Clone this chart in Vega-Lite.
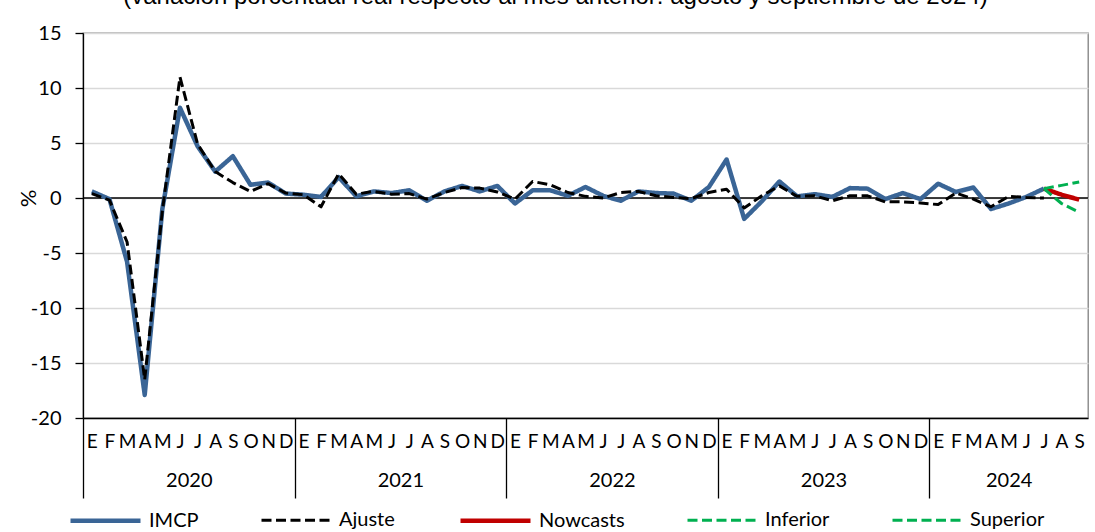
{
  "$schema": "https://vega.github.io/schema/vega-lite/v6.json",
  "width": 1005,
  "height": 385,
  "autosize": {"type": "none"},
  "padding": {"left": 83, "top": 33, "right": 7, "bottom": 114},
  "background": "white",
  "title": {
    "text": "(variación porcentual real respecto al mes anterior: agosto y septiembre de 2024)",
    "font": "Liberation Sans",
    "fontSize": 24,
    "fontWeight": "normal",
    "color": "black",
    "anchor": "middle",
    "frame": "group",
    "baseline": "alphabetic",
    "offset": -5,
    "dx": -30
  },
  "data": {
    "values": [
      {"periodo": "2020-01", "IMCP": 0.6, "Ajuste": 0.4},
      {"periodo": "2020-02", "IMCP": -0.1, "Ajuste": -0.2},
      {"periodo": "2020-03", "IMCP": -5.8, "Ajuste": -4.0},
      {"periodo": "2020-04", "IMCP": -17.9, "Ajuste": -16.5},
      {"periodo": "2020-05", "IMCP": -1.0, "Ajuste": -1.2},
      {"periodo": "2020-06", "IMCP": 8.2, "Ajuste": 11.0},
      {"periodo": "2020-07", "IMCP": 4.7, "Ajuste": 4.9},
      {"periodo": "2020-08", "IMCP": 2.4, "Ajuste": 2.4},
      {"periodo": "2020-09", "IMCP": 3.8, "Ajuste": 1.4},
      {"periodo": "2020-10", "IMCP": 1.2, "Ajuste": 0.6},
      {"periodo": "2020-11", "IMCP": 1.4, "Ajuste": 1.3},
      {"periodo": "2020-12", "IMCP": 0.4, "Ajuste": 0.45},
      {"periodo": "2021-01", "IMCP": 0.3, "Ajuste": 0.3},
      {"periodo": "2021-02", "IMCP": 0.1, "Ajuste": -0.8},
      {"periodo": "2021-03", "IMCP": 1.9, "Ajuste": 2.2},
      {"periodo": "2021-04", "IMCP": 0.15, "Ajuste": 0.35},
      {"periodo": "2021-05", "IMCP": 0.6, "Ajuste": 0.6},
      {"periodo": "2021-06", "IMCP": 0.45, "Ajuste": 0.35},
      {"periodo": "2021-07", "IMCP": 0.7, "Ajuste": 0.4},
      {"periodo": "2021-08", "IMCP": -0.25, "Ajuste": -0.1},
      {"periodo": "2021-09", "IMCP": 0.6, "Ajuste": 0.5},
      {"periodo": "2021-10", "IMCP": 1.1, "Ajuste": 0.95},
      {"periodo": "2021-11", "IMCP": 0.6, "Ajuste": 0.9},
      {"periodo": "2021-12", "IMCP": 1.1, "Ajuste": 0.55},
      {"periodo": "2022-01", "IMCP": -0.5, "Ajuste": -0.1},
      {"periodo": "2022-02", "IMCP": 0.7, "Ajuste": 1.5},
      {"periodo": "2022-03", "IMCP": 0.7, "Ajuste": 1.2},
      {"periodo": "2022-04", "IMCP": 0.2, "Ajuste": 0.5},
      {"periodo": "2022-05", "IMCP": 1.0, "Ajuste": 0.15},
      {"periodo": "2022-06", "IMCP": 0.2, "Ajuste": 0.0},
      {"periodo": "2022-07", "IMCP": -0.25, "Ajuste": 0.5},
      {"periodo": "2022-08", "IMCP": 0.6, "Ajuste": 0.6},
      {"periodo": "2022-09", "IMCP": 0.45, "Ajuste": 0.2},
      {"periodo": "2022-10", "IMCP": 0.4, "Ajuste": 0.05},
      {"periodo": "2022-11", "IMCP": -0.25, "Ajuste": -0.05},
      {"periodo": "2022-12", "IMCP": 1.0, "Ajuste": 0.5},
      {"periodo": "2023-01", "IMCP": 3.5, "Ajuste": 0.8},
      {"periodo": "2023-02", "IMCP": -1.9, "Ajuste": -0.9},
      {"periodo": "2023-03", "IMCP": -0.3, "Ajuste": 0.2},
      {"periodo": "2023-04", "IMCP": 1.5, "Ajuste": 1.1},
      {"periodo": "2023-05", "IMCP": 0.15, "Ajuste": 0.15},
      {"periodo": "2023-06", "IMCP": 0.35, "Ajuste": 0.2},
      {"periodo": "2023-07", "IMCP": 0.1, "Ajuste": -0.25},
      {"periodo": "2023-08", "IMCP": 0.9, "Ajuste": 0.2},
      {"periodo": "2023-09", "IMCP": 0.85, "Ajuste": 0.2},
      {"periodo": "2023-10", "IMCP": -0.1, "Ajuste": -0.35},
      {"periodo": "2023-11", "IMCP": 0.45, "Ajuste": -0.35},
      {"periodo": "2023-12", "IMCP": -0.1, "Ajuste": -0.45},
      {"periodo": "2024-01", "IMCP": 1.3, "Ajuste": -0.6},
      {"periodo": "2024-02", "IMCP": 0.55, "Ajuste": 0.45},
      {"periodo": "2024-03", "IMCP": 0.95, "Ajuste": -0.1},
      {"periodo": "2024-04", "IMCP": -1.0, "Ajuste": -0.8},
      {"periodo": "2024-05", "IMCP": -0.5, "Ajuste": 0.15},
      {"periodo": "2024-06", "IMCP": 0.1, "Ajuste": 0.05},
      {"periodo": "2024-07", "IMCP": 0.85, "Ajuste": 0.0, "Nowcasts": 0.85, "Inferior": 0.85, "Superior": 0.85},
      {"periodo": "2024-08", "Nowcasts": 0.3, "Inferior": -0.5, "Superior": 1.15},
      {"periodo": "2024-09", "Nowcasts": -0.15, "Inferior": -1.3, "Superior": 1.45}
    ]
  },
  "layer": [
    {
      "data": {"values": [{"nivel": 0}]},
      "mark": {"type": "rule", "color": "black", "strokeWidth": 1.3},
      "encoding": {
        "y": {"field": "nivel", "type": "quantitative", "title": "%", "scale": {"domain": [-20, 15], "nice": false, "zero": false}, "axis": {"values": [-20, -15, -10, -5, 0, 5, 10, 15]}}
      }
    },
    {
      "transform": [
        {"fold": ["IMCP", "Ajuste", "Nowcasts", "Inferior", "Superior"], "as": ["serie", "valor"]},
        {"filter": "isValid(datum.valor) && datum.serie == 'IMCP'"}
      ],
      "mark": {"type": "line", "strokeCap": "butt", "strokeJoin": "round"},
      "encoding": {
        "x": {"field": "periodo", "type": "ordinal", "title": null, "scale": {"type": "point", "padding": 0.5},
          "axis": {"orient": "bottom", "ticks": false, "domain": true, "domainColor": "black", "domainWidth": 1.3, "grid": false,
            "labelExpr": "['E','F','M','A','M','J','J','A','S','O','N','D'][toNumber(substring(datum.value,5,7))-1]",
            "labelFont": "Lato", "labelFontSize": 19, "labelColor": "black", "labelPadding": 14, "labelAngle": 0,
            "labelOverlap": false, "labelBound": false, "labelFlush": false}},
        "y": {"field": "valor", "type": "quantitative", "title": "%", "scale": {"domain": [-20, 15], "nice": false, "zero": false}, "axis": {"values": [-20, -15, -10, -5, 0, 5, 10, 15]}},
        "color": {"field": "serie", "type": "nominal", "scale": {"domain": ["IMCP", "Ajuste", "Nowcasts", "Inferior", "Superior"], "range": ["#3A6596", "#000000", "#C00000", "#00B050", "#00B050"]}},
        "strokeDash": {"field": "serie", "type": "nominal", "scale": {"domain": ["IMCP", "Ajuste", "Nowcasts", "Inferior", "Superior"], "range": [[1, 0], [10, 4.5], [1, 0], [10, 4.5], [10, 4.5]]}},
        "strokeWidth": {"field": "serie", "type": "nominal", "scale": {"type": "ordinal", "domain": ["IMCP", "Ajuste", "Nowcasts", "Inferior", "Superior"], "range": [4.5, 3, 4.5, 3, 3]}}
      }
    },
    {
      "transform": [
        {"fold": ["IMCP", "Ajuste", "Nowcasts", "Inferior", "Superior"], "as": ["serie", "valor"]},
        {"filter": "isValid(datum.valor) && datum.serie == 'Ajuste'"}
      ],
      "mark": {"type": "line", "strokeCap": "butt", "strokeJoin": "round"},
      "encoding": {
        "x": {"field": "periodo", "type": "ordinal", "title": null, "scale": {"type": "point", "padding": 0.5},
          "axis": {"orient": "bottom", "ticks": false, "domain": false, "grid": false,
            "values": ["2020-06", "2021-06", "2022-06", "2023-06", "2024-05"],
            "labelExpr": "substring(datum.value,0,4)",
            "labelOffset": {"condition": {"test": "datum.value == '2024-05'", "value": 0}, "value": 8.816},
            "labelFont": "Lato", "labelFontSize": 20, "labelColor": "black", "labelPadding": 52, "labelAngle": 0,
            "labelOverlap": false, "labelBound": false, "labelFlush": false}},
        "y": {"field": "valor", "type": "quantitative", "title": "%", "scale": {"domain": [-20, 15], "nice": false, "zero": false}, "axis": {"values": [-20, -15, -10, -5, 0, 5, 10, 15]}},
        "color": {"field": "serie", "type": "nominal", "scale": {"domain": ["IMCP", "Ajuste", "Nowcasts", "Inferior", "Superior"], "range": ["#3A6596", "#000000", "#C00000", "#00B050", "#00B050"]}},
        "strokeDash": {"field": "serie", "type": "nominal", "scale": {"domain": ["IMCP", "Ajuste", "Nowcasts", "Inferior", "Superior"], "range": [[1, 0], [10, 4.5], [1, 0], [10, 4.5], [10, 4.5]]}},
        "strokeWidth": {"field": "serie", "type": "nominal", "scale": {"type": "ordinal", "domain": ["IMCP", "Ajuste", "Nowcasts", "Inferior", "Superior"], "range": [4.5, 3, 4.5, 3, 3]}}
      }
    },
    {
      "transform": [
        {"fold": ["IMCP", "Ajuste", "Nowcasts", "Inferior", "Superior"], "as": ["serie", "valor"]},
        {"filter": "isValid(datum.valor) && datum.serie == 'Nowcasts'"}
      ],
      "mark": {"type": "line", "strokeCap": "butt", "strokeJoin": "round"},
      "encoding": {
        "x": {"field": "periodo", "type": "ordinal", "title": null, "scale": {"type": "point", "padding": 0.5},
          "axis": {"orient": "bottom", "labels": false, "ticks": true, "domain": false, "grid": false,
            "values": ["2020-01", "2021-01", "2022-01", "2023-01", "2024-01"],
            "tickSize": 80, "tickOffset": -8.816, "tickColor": "black", "tickWidth": 1.3}},
        "y": {"field": "valor", "type": "quantitative", "title": "%", "scale": {"domain": [-20, 15], "nice": false, "zero": false}, "axis": {"values": [-20, -15, -10, -5, 0, 5, 10, 15]}},
        "color": {"field": "serie", "type": "nominal", "scale": {"domain": ["IMCP", "Ajuste", "Nowcasts", "Inferior", "Superior"], "range": ["#3A6596", "#000000", "#C00000", "#00B050", "#00B050"]}},
        "strokeDash": {"field": "serie", "type": "nominal", "scale": {"domain": ["IMCP", "Ajuste", "Nowcasts", "Inferior", "Superior"], "range": [[1, 0], [10, 4.5], [1, 0], [10, 4.5], [10, 4.5]]}},
        "strokeWidth": {"field": "serie", "type": "nominal", "scale": {"type": "ordinal", "domain": ["IMCP", "Ajuste", "Nowcasts", "Inferior", "Superior"], "range": [4.5, 3, 4.5, 3, 3]}}
      }
    },
    {
      "transform": [
        {"fold": ["IMCP", "Ajuste", "Nowcasts", "Inferior", "Superior"], "as": ["serie", "valor"]},
        {"filter": "isValid(datum.valor) && (datum.serie == 'Inferior' || datum.serie == 'Superior')"}
      ],
      "mark": {"type": "line", "strokeCap": "butt", "strokeJoin": "round"},
      "encoding": {
        "x": {"field": "periodo", "type": "ordinal", "title": null, "scale": {"type": "point", "padding": 0.5}, "axis": null},
        "y": {"field": "valor", "type": "quantitative", "title": "%", "scale": {"domain": [-20, 15], "nice": false, "zero": false}, "axis": {"values": [-20, -15, -10, -5, 0, 5, 10, 15]}},
        "color": {"field": "serie", "type": "nominal", "scale": {"domain": ["IMCP", "Ajuste", "Nowcasts", "Inferior", "Superior"], "range": ["#3A6596", "#000000", "#C00000", "#00B050", "#00B050"]}},
        "strokeDash": {"field": "serie", "type": "nominal", "scale": {"domain": ["IMCP", "Ajuste", "Nowcasts", "Inferior", "Superior"], "range": [[1, 0], [10, 4.5], [1, 0], [10, 4.5], [10, 4.5]]}},
        "strokeWidth": {"field": "serie", "type": "nominal", "scale": {"type": "ordinal", "domain": ["IMCP", "Ajuste", "Nowcasts", "Inferior", "Superior"], "range": [4.5, 3, 4.5, 3, 3]}}
      }
    }
  ],
  "resolve": {"axis": {"x": "independent"}},
  "config": {
    "view": {"stroke": "#7F7F7F", "strokeWidth": 1.3},
    "axisY": {
      "grid": true, "gridColor": "#D9D9D9", "gridWidth": 1.5,
      "domainColor": "black", "domainWidth": 1.3,
      "tickColor": "black", "tickWidth": 1.3, "tickSize": 8,
      "labelExpr": "'' + datum.value",
      "labelFont": "Lato", "labelFontSize": 20, "labelColor": "black", "labelPadding": 14,
      "titleFont": "Lato", "titleFontSize": 22, "titleFontWeight": "normal", "titleColor": "black",
      "titleAngle": 270, "titleX": -55, "titleY": 165, "titleAlign": "center", "titleBaseline": "middle"
    },
    "legend": {
      "orient": "none", "legendX": -15, "legendY": 450, "direction": "horizontal", "title": null,
      "symbolType": "stroke", "symbolSize": 4900, "labelFont": "Lato", "labelFontSize": 20, "labelColor": "black",
      "labelOffset": 6, "columnPadding": 56, "padding": 0, "labelLimit": 0
    }
  }
}
